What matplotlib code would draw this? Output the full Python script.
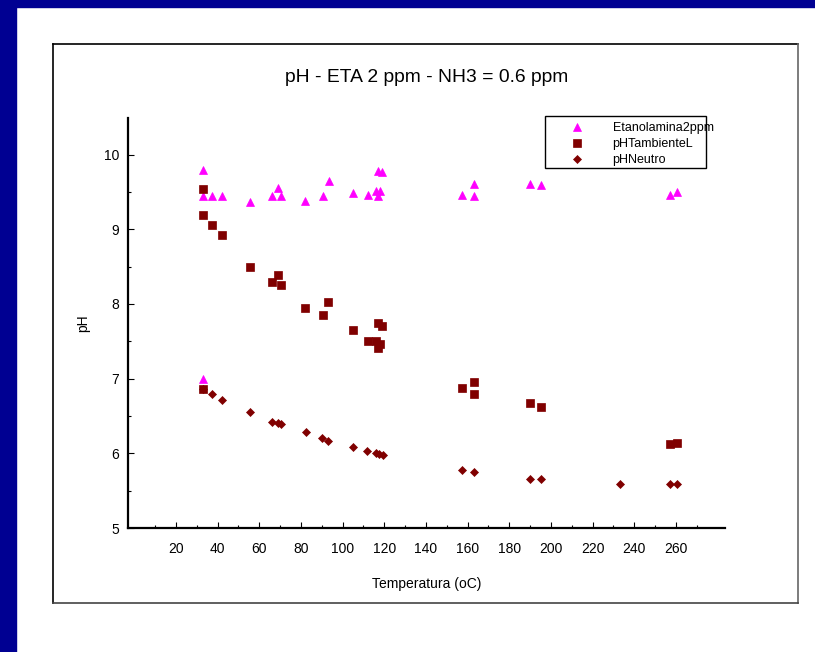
import matplotlib
matplotlib.use("Agg")
import matplotlib.pyplot as plt
from matplotlib.patches import Rectangle
from matplotlib.lines import Line2D
from matplotlib.ticker import FixedLocator

plt.rcParams['font.family'] = ['Liberation Sans', 'DejaVu Sans']

# === Data ===
eta_temp = [33, 33, 37.2, 42.2, 55.5, 66.3, 68.8, 70.3, 82.1, 90.4, 93.3, 105.1, 112,
            116.8, 119, 115.9, 118.1, 116.8, 157.2, 163.1, 163.1, 190.1, 195.4, 257.2, 260.5, 33]
eta_ph = [9.79, 9.45, 9.45, 9.45, 9.37, 9.45, 9.55, 9.45, 9.38, 9.45, 9.65, 9.49, 9.46,
          9.78, 9.77, 9.51, 9.51, 9.44, 9.46, 9.61, 9.45, 9.60, 9.59, 9.46, 9.50, 6.99]

amb_temp = [33, 33, 37.2, 42.2, 55.4, 68.8, 66.3, 70.3, 82.1, 93.1, 90.4, 105, 117, 118.9,
            112, 115.9, 118.1, 117, 157.2, 163.2, 163.2, 190.1, 195.2, 257.3, 260.4, 33]
amb_ph = [9.54, 9.19, 9.06, 8.92, 8.50, 8.39, 8.30, 8.25, 7.95, 8.02, 7.85, 7.65, 7.75, 7.71,
          7.50, 7.50, 7.47, 7.41, 6.87, 6.96, 6.80, 6.68, 6.62, 6.12, 6.14, 6.86]

neu_temp = [33, 37.2, 42.2, 55.5, 66.3, 68.8, 70.3, 82.3, 90.3, 93.1, 105.1, 111.9, 116,
            117.6, 119.2, 157.2, 163.2, 190.1, 195.2, 233.2, 257.3, 260.4]
neu_ph = [6.86, 6.79, 6.72, 6.55, 6.42, 6.41, 6.39, 6.28, 6.20, 6.17, 6.08, 6.03, 6.00,
          5.99, 5.98, 5.77, 5.75, 5.66, 5.65, 5.59, 5.59, 5.59]

series_names = ['Etanolamina2ppm', 'pHTambienteL', 'pHNeutro']
x_major = list(range(20, 261, 20))
x_minor = list(range(10, 271, 20))

W, H = 815, 652
fig = plt.figure(figsize=(W / 100, H / 100), dpi=100)
fig.patch.set_facecolor('white')

# slide background strips
navy = '#000092'
fig.patches.append(Rectangle((0, 0), 15.6 / W, 1, transform=fig.transFigure, color=navy, zorder=0))
fig.patches.append(Rectangle((0, 1 - 7 / H), 1, 7 / H, transform=fig.transFigure, color=navy, zorder=0))

# outer frame of the chart object
fl, fr, fb, ft = 53 / W, 798 / W, 1 - 603 / H, 1 - 44 / H
fig.lines.append(Line2D([fl, fr], [ft, ft], transform=fig.transFigure, color='black', lw=1.2))
fig.lines.append(Line2D([fl, fl], [fb, ft], transform=fig.transFigure, color='black', lw=1.2))
fig.lines.append(Line2D([fr, fr], [fb, ft], transform=fig.transFigure, color='#666666', lw=1.2))
fig.lines.append(Line2D([fl, fr], [fb, fb], transform=fig.transFigure, color='#444444', lw=1.2))

ax = fig.add_axes([128 / W, 1 - 528 / H, (725 - 128) / W, (528 - 118) / H])
ax.set_facecolor('none')

ax.plot(eta_temp, eta_ph, linestyle='none', marker='^', ms=5.4, color='#FF00FF',
        markeredgewidth=0.5, label=series_names[0])
ax.plot(amb_temp, amb_ph, linestyle='none', marker='s', ms=6.0, color='#800000',
        markeredgewidth=0.5, label=series_names[1])
ax.plot(neu_temp, neu_ph, linestyle='none', marker='D', ms=3.8, color='#800000',
        markeredgewidth=0.5, label=series_names[2])

ax.set_xlim(-3, 283.6)
ax.set_ylim(5, 10.49)
ax.xaxis.set_major_locator(FixedLocator(x_major))
ax.xaxis.set_minor_locator(FixedLocator(x_minor))
ax.yaxis.set_major_locator(FixedLocator([5, 6, 7, 8, 9, 10]))
ax.yaxis.set_minor_locator(FixedLocator([5.5, 6.5, 7.5, 8.5, 9.5]))

for s in ['top', 'right']:
    ax.spines[s].set_visible(False)
for s in ['left', 'bottom']:
    ax.spines[s].set_linewidth(1.6)

ax.tick_params(which='major', direction='in', length=4, width=0.8, labelsize=10)
ax.tick_params(which='minor', direction='in', length=2.2, width=0.8)
ax.tick_params(axis='x', which='major', pad=10)
ax.tick_params(axis='y', which='major', pad=6.5)

ax.set_title('pH - ETA 2 ppm - NH3 = 0.6 ppm', fontsize=13.9, pad=26)
ax.set_xlabel('Temperatura (oC)', fontsize=10)
ax.set_ylabel('pH', fontsize=10)
ax.xaxis.set_label_coords(0.5, -0.12)
ax.yaxis.set_label_coords(-0.064, 0.5)

# legend: text runs past its box in the reference, so the box is drawn separately
fig.patches.append(Rectangle((545 / W, 1 - 168 / H), (706 - 545) / W, (168 - 116) / H,
                             transform=fig.transFigure, fill=False, edgecolor='black', lw=1.0))
fig.legend(loc='upper left', bbox_to_anchor=(564.5 / W, 1 - 122 / H), frameon=False,
           fontsize=9, handlelength=2.0, handletextpad=1.85, labelspacing=0.32,
           borderpad=0, borderaxespad=0, markerscale=1.0)

fig.savefig('out.png', dpi=100)
